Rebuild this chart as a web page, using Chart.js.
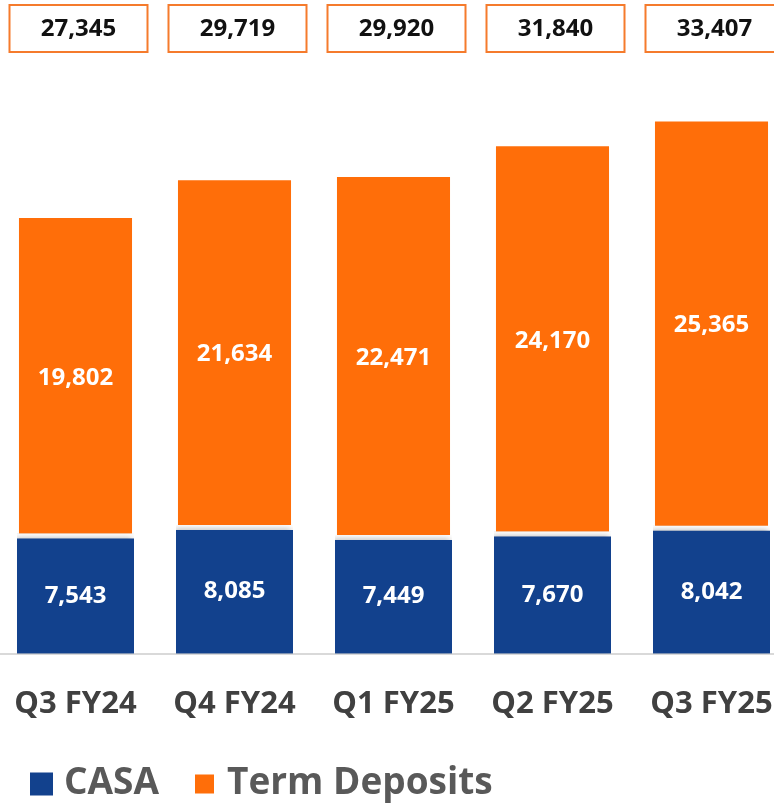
<!DOCTYPE html>
<html lang="en">
<head>
    <meta charset="UTF-8">
    <title>CASA and Term Deposits</title>
    <script src="https://cdn.jsdelivr.net/npm/chart.js"></script>
    <style>
        html, body {
            margin: 0;
            padding: 0;
            background: #fff;
            overflow: hidden;
        }
        #grafica {
            position: absolute;
            left: -4px;
            top: 0;
        }
    </style>
</head>
<body>
    <canvas id="grafica" width="795" height="804"></canvas>

    <script>
        // Datos
        const quarters = ['Q3 FY24', 'Q4 FY24', 'Q1 FY25', 'Q2 FY25', 'Q3 FY25'];
        const casa = [7543, 8085, 7449, 7670, 8042];
        const termDeposits = [19802, 21634, 22471, 24170, 25365];
        const totals = [27345, 29719, 29920, 31840, 33407];

        const FONT = "'Open Sans', 'DejaVu Sans', sans-serif";
        const fmt = v => v.toLocaleString('en-US');

        // sombra suave en las barras azules
        const shadowPlugin = {
            id: 'sombra',
            beforeDatasetDraw(chart, args) {
                if (args.index !== 0) return;
                const c = chart.ctx;
                c.save();
                c.shadowColor = 'rgba(0,0,0,0.28)';
                c.shadowBlur = 6;
                c.shadowOffsetX = -2;
                c.shadowOffsetY = -1;
            },
            afterDatasetDraw(chart, args) {
                if (args.index !== 0) return;
                chart.ctx.restore();
            }
        };

        // etiquetas dentro de las barras, cajas de totales y leyenda
        const labelsPlugin = {
            id: 'etiquetas',
            afterDatasetsDraw(chart) {
                const c = chart.ctx;
                c.save();
                c.font = 'bold 24px ' + FONT;
                c.fillStyle = '#ffffff';
                c.textAlign = 'center';
                c.textBaseline = 'middle';
                chart.data.datasets.forEach((ds, di) => {
                    chart.getDatasetMeta(di).data.forEach((bar, i) => {
                        const p = bar.getCenterPoint();
                        c.fillText(fmt(ds.data[i]), p.x, p.y + 2);
                    });
                });

                const xs = chart.scales.x;
                totals.forEach((t, i) => {
                    const cx = xs.getPixelForValue(i) + 3;
                    const w = 138, h = 47, top = 5;
                    c.fillStyle = '#ffffff';
                    c.fillRect(cx - w / 2, top, w, h);
                    c.strokeStyle = '#F57B2C';
                    c.lineWidth = 2;
                    c.strokeRect(cx - w / 2, top, w, h);
                    c.fillStyle = '#111111';
                    c.font = 'bold 24px ' + FONT;
                    c.fillText(fmt(t), cx, top + h / 2 + 1);
                });

                // leyenda
                const items = [
                    { ds: chart.data.datasets[0], box: 23, bx: 34, tx: 68 },
                    { ds: chart.data.datasets[1], box: 19, bx: 199, tx: 231 }
                ];
                c.textAlign = 'left';
                c.font = 'bold 37px ' + FONT;
                items.forEach(it => {
                    c.fillStyle = it.ds.backgroundColor;
                    c.fillRect(it.bx, 784 - it.box / 2, it.box, it.box);
                    c.fillStyle = '#595959';
                    c.fillText(it.ds.label, it.tx, 783);
                });
                c.restore();
            }
        };

        const ctx = document.getElementById('grafica').getContext('2d');
        const grafica = new Chart(ctx, {
            type: 'bar',
            data: {
                labels: quarters,
                datasets: [{
                    label: 'CASA',
                    data: casa,
                    backgroundColor: '#12418D',
                    borderColor: '#ffffff',
                    borderWidth: { top: 5, bottom: 0, left: 0, right: 0 },
                    borderSkipped: false,
                    barPercentage: 0.736,
                    categoryPercentage: 1
                }, {
                    label: 'Term Deposits',
                    data: termDeposits,
                    backgroundColor: '#FF6E09',
                    borderWidth: 0,
                    barPercentage: 0.711,
                    categoryPercentage: 1
                }]
            },
            options: {
                responsive: false,
                animation: false,
                layout: {
                    padding: { top: 96, bottom: 57, left: 0, right: 0 }
                },
                plugins: {
                    tooltip: { enabled: false },
                    legend: { display: false }
                },
                scales: {
                    x: {
                        stacked: true,
                        grid: { display: false },
                        border: { display: true, color: '#D9D9D9', width: 2 },
                        ticks: {
                            color: '#404040',
                            padding: 24,
                            font: { family: FONT, size: 31, weight: 'bold' }
                        },
                        afterFit(scale) {
                            scale.paddingLeft = 0;
                            scale.paddingRight = 0;
                        }
                    },
                    y: {
                        stacked: true,
                        display: false,
                        min: 0,
                        max: 35000
                    }
                }
            },
            plugins: [shadowPlugin, labelsPlugin]
        });
    </script>
</body>
</html>
